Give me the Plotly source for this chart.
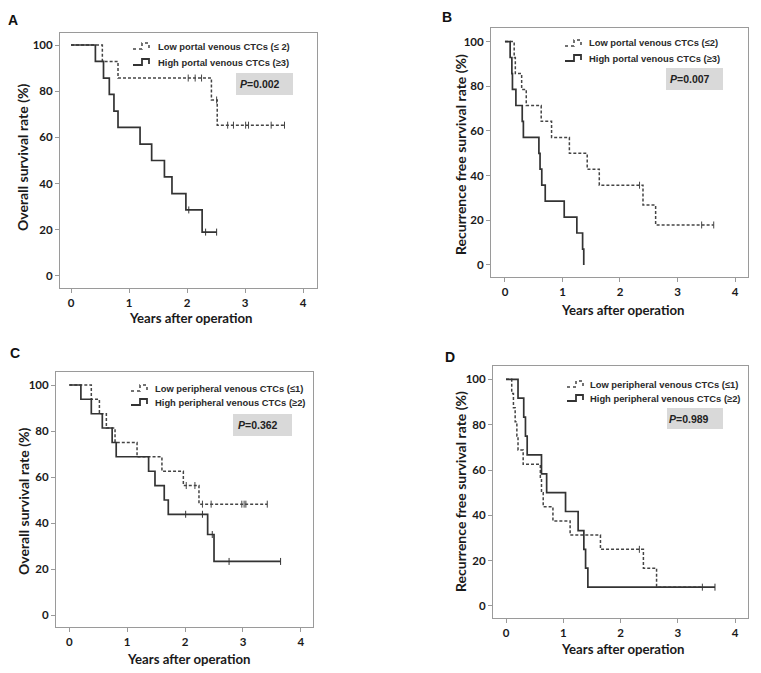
import plotly.graph_objects as go

W, H = 761, 673
OFF = 8  # page body margin of the browser

# ---------------- data ----------------
# Panel A: overall survival, portal venous CTCs
A_high_t = [0, 0.42, 0.56, 0.66, 0.74, 0.81, 1.19, 1.39, 1.61, 1.74, 1.98, 2.26]
A_high_s = [100, 92.9, 85.7, 78.6, 71.4, 64.3, 57.1, 50.0, 42.9, 35.7, 28.6, 19.0]
A_high_end = 2.51
A_high_cens = [2.03, 2.32, 2.51]
A_low_t = [0, 0.54, 0.81, 2.42, 2.52]
A_low_s = [100, 92.9, 85.7, 76.2, 65.3]
A_low_end = 3.68
A_low_cens = [2.02, 2.14, 2.25, 2.51, 2.70, 2.80, 3.01, 3.06, 3.45, 3.68]

# Panel B: recurrence free survival, portal venous CTCs
B_high_t = [0, 0.09, 0.12, 0.13, 0.19, 0.30, 0.32, 0.59, 0.61, 0.64, 0.70, 1.03, 1.25, 1.35, 1.37]
B_high_s = [100, 92.9, 85.7, 78.6, 71.4, 64.3, 57.1, 50.0, 42.9, 35.7, 28.6, 21.4, 14.3, 7.1, 0]
B_high_end = 1.37
B_high_cens = []
B_low_t = [0, 0.16, 0.18, 0.29, 0.37, 0.63, 0.81, 1.12, 1.43, 1.64, 2.40, 2.62]
B_low_s = [100, 92.9, 85.7, 78.6, 71.4, 64.3, 57.1, 50.0, 42.9, 35.7, 26.8, 17.9]
B_low_end = 3.63
B_low_cens = [2.34, 3.42, 3.63]

# Panel C: overall survival, peripheral venous CTCs
C_high_t = [0, 0.20, 0.38, 0.57, 0.74, 0.81, 1.37, 1.48, 1.64, 1.71, 2.39, 2.50]
C_high_s = [100, 93.8, 87.5, 81.3, 75.0, 68.8, 62.5, 56.3, 50.0, 43.8, 35.0, 23.3]
C_high_end = 3.65
C_high_cens = [2.01, 2.30, 2.47, 2.76, 3.65]
C_low_t = [0, 0.38, 0.52, 0.64, 0.79, 1.17, 1.60, 1.97, 2.24]
C_low_s = [100, 93.8, 87.5, 81.3, 75.0, 68.8, 62.5, 56.3, 48.2]
C_low_end = 3.42
C_low_cens = [2.02, 2.17, 2.30, 2.45, 2.98, 3.02, 3.05, 3.42]

# Panel D: recurrence free survival, peripheral venous CTCs
D_high_t = [0, 0.21, 0.31, 0.34, 0.37, 0.62, 0.71, 1.04, 1.26, 1.36, 1.39, 1.43]
D_high_s = [100, 91.7, 83.3, 75.0, 66.7, 58.3, 50.0, 41.7, 33.3, 25.0, 16.7, 8.3]
D_high_end = 3.65
D_high_cens = [3.65]
D_low_t = [0, 0.10, 0.13, 0.16, 0.19, 0.21, 0.30, 0.60, 0.62, 0.65, 0.82, 1.12, 1.65, 2.40, 2.63]
D_low_s = [100, 93.8, 87.5, 81.3, 75.0, 68.8, 62.5, 56.3, 50.0, 43.8, 37.5, 31.3, 25.0, 16.7, 8.3]
D_low_end = 3.43
D_low_cens = [2.33, 3.43]

x_ticks = [0, 1, 2, 3, 4]
y_ticks = [0, 20, 40, 60, 80, 100]

letters = ["A", "B", "C", "D"]
y_titles = ["Overall survival rate (%)", "Recurrence free survival rate (%)",
            "Overall survival rate (%)", "Recurrence free survival rate (%)"]
x_title = "Years after operation"
low_labels = ["Low portal venous CTCs (\u2264 2)", "Low portal venous CTCs (\u22642)",
              "Low peripheral venous CTCs (\u22641)", "Low peripheral venous CTCs (\u22641)"]
high_labels = ["High portal venous CTCs (\u22653)", "High portal venous CTCs (\u22653)",
               "High peripheral venous CTCs (\u22652)", "High peripheral venous CTCs (\u22652)"]
p_values = ["0.002", "0.007", "0.362", "0.989"]

# ---------------- layout geometry (pixels in the 761x673 picture) ----------------
panels = [
    dict(box=(60, 33, 317, 288), xr=(-0.19, 4.24), yr=(-5.2, 105.2),
         letter=(13, 20), ytit=(22, 158), xtit=(190, 318),
         icon_x=133, rows=(46, 62), text_x=156, pbox=(236, 73, 293, 95), ptext=(260, 84)),
    dict(box=(491, 28, 748, 277), xr=(-0.243, 4.226), yr=(-5.4, 106.1),
         letter=(447, 17), ytit=(460, 155), xtit=(622, 310),
         icon_x=565, rows=(43, 58), text_x=587, pbox=(666, 68, 723, 90), ptext=(690, 79)),
    dict(box=(56, 372, 313, 627), xr=(-0.23, 4.21), yr=(-5.2, 105.65),
         letter=(15, 353), ytit=(23, 502), xtit=(188, 659),
         icon_x=131, rows=(388, 402), text_x=153, pbox=(233, 414, 292, 436), ptext=(258, 425)),
    dict(box=(493, 366, 748, 618), xr=(-0.227, 4.227), yr=(-5.3, 105.9),
         letter=(450, 357), ytit=(460, 492), xtit=(622, 649),
         icon_x=567, rows=(384, 398), text_x=588, pbox=(667, 408, 723, 429), ptext=(689, 419)),
]

curves = [
    (A_high_t, A_high_s, A_high_end, A_high_cens, A_low_t, A_low_s, A_low_end, A_low_cens),
    (B_high_t, B_high_s, B_high_end, B_high_cens, B_low_t, B_low_s, B_low_end, B_low_cens),
    (C_high_t, C_high_s, C_high_end, C_high_cens, C_low_t, C_low_s, C_low_end, C_low_cens),
    (D_high_t, D_high_s, D_high_end, D_high_cens, D_low_t, D_low_s, D_low_end, D_low_cens),
]

FW, FH = W - OFF, H - OFF


def fx(px):
    return (px - OFF) / FW


def fy(py):
    return 1 - (py - OFF) / FH


def step_value(ts, ss, x):
    v = ss[0]
    for t, s in zip(ts, ss):
        if t <= x:
            v = s
    return v


SOLID = "#333333"
DASHED = "#444444"
TICKFONT = dict(family="Lato, Liberation Sans, sans-serif", size=11.5, color="#1a1a1a", weight="bold")
YTITLEFONT = dict(family="Lato, Liberation Sans, sans-serif", size=14, color="#1a1a1a", weight="bold")
XTITLEFONT = dict(family="Lato, Liberation Sans, sans-serif", size=13.2, color="#1a1a1a", weight="bold")
LEGFONT = dict(family="Liberation Sans, Arial, sans-serif", size=9.4, color="#2a2a2a", weight="bold")

fig = go.Figure()
annotations = []
shapes = []
layout_axes = {}

for i, (p, c) in enumerate(zip(panels, curves)):
    n = "" if i == 0 else str(i + 1)
    xa, ya = "x" + n, "y" + n
    ht, hs, hend, hc, lt, ls, lend, lc = c

    # low (dashed)
    fig.add_trace(go.Scatter(x=lt + [lend], y=ls + [ls[-1]], mode="lines", line_shape="hv",
                             line=dict(color=DASHED, width=1.5, dash="3px,2px"),
                             xaxis=xa, yaxis=ya, showlegend=False, hoverinfo="skip"))
    if lc:
        fig.add_trace(go.Scatter(x=lc, y=[step_value(lt, ls, t) for t in lc], mode="markers",
                                 marker=dict(symbol="line-ns", size=5, color=DASHED,
                                             line=dict(color=DASHED, width=1)),
                                 xaxis=xa, yaxis=ya, showlegend=False, hoverinfo="skip"))
    # high (solid)
    fig.add_trace(go.Scatter(x=ht + [hend], y=hs + [hs[-1]], mode="lines", line_shape="hv",
                             line=dict(color=SOLID, width=1.7),
                             xaxis=xa, yaxis=ya, showlegend=False, hoverinfo="skip"))
    if hc:
        fig.add_trace(go.Scatter(x=hc, y=[step_value(ht, hs, t) for t in hc], mode="markers",
                                 marker=dict(symbol="line-ns", size=5, color=SOLID,
                                             line=dict(color=SOLID, width=1)),
                                 xaxis=xa, yaxis=ya, showlegend=False, hoverinfo="skip"))

    x0, y0, x1, y1 = p["box"]
    common = dict(showline=True, mirror=True, linecolor="#9a9a9a", linewidth=1,
                  ticks="outside", ticklen=4, tickcolor="#9a9a9a", tickwidth=1,
                  showgrid=False, zeroline=False, tickfont=TICKFONT, fixedrange=True)
    layout_axes["xaxis" + n] = dict(domain=[fx(x0), fx(x1)], range=list(p["xr"]),
                                    tickvals=x_ticks, anchor=ya, **common)
    layout_axes["yaxis" + n] = dict(domain=[fy(y1), fy(y0)], range=list(p["yr"]),
                                    tickvals=y_ticks, anchor=xa, **common)

    # panel letter
    lx, ly = p["letter"]
    annotations.append(dict(x=fx(lx), y=fy(ly), xref="paper", yref="paper", text=letters[i],
                            showarrow=False, xanchor="center", yanchor="middle",
                            font=dict(family="Liberation Sans, Arial, sans-serif", size=14,
                                      color="#111111", weight="bold")))
    # axis titles
    tx, ty = p["ytit"]
    annotations.append(dict(x=fx(tx), y=fy(ty), xref="paper", yref="paper", text=y_titles[i],
                            textangle=-90, showarrow=False, xanchor="center", yanchor="middle",
                            font=YTITLEFONT))
    tx, ty = p["xtit"]
    annotations.append(dict(x=fx(tx), y=fy(ty), xref="paper", yref="paper", text=x_title,
                            showarrow=False, xanchor="center", yanchor="middle", font=XTITLEFONT))

    # legend
    ix = p["icon_x"]
    r1, r2 = p["rows"]
    for row, dash, col, w in ((r1, "dot", DASHED, 1.5), (r2, "solid", SOLID, 1.8)):
        pts = [(ix, row + 3), (ix + 9, row + 3), (ix + 9, row - 3), (ix + 16, row - 3), (ix + 16, row + 2)]
        path = "M " + " L ".join(f"{fx(a):.5f},{fy(b):.5f}" for a, b in pts)
        shapes.append(dict(type="path", path=path, xref="paper", yref="paper",
                           line=dict(color=col, width=w, dash=dash)))
    annotations.append(dict(x=fx(p["text_x"]), y=fy(r1), xref="paper", yref="paper",
                            text=low_labels[i], showarrow=False, xanchor="left", yanchor="middle",
                            font=LEGFONT))
    annotations.append(dict(x=fx(p["text_x"]), y=fy(r2), xref="paper", yref="paper",
                            text=high_labels[i], showarrow=False, xanchor="left", yanchor="middle",
                            font=LEGFONT))

    # p-value box
    bx0, by0, bx1, by1 = p["pbox"]
    shapes.append(dict(type="rect", xref="paper", yref="paper", x0=fx(bx0), x1=fx(bx1),
                       y0=fy(by1), y1=fy(by0), fillcolor="#d9d9d9", line=dict(width=0),
                       layer="below"))
    px_, py_ = p["ptext"]
    annotations.append(dict(x=fx(px_), y=fy(py_), xref="paper", yref="paper",
                            text="<i>P</i>=" + p_values[i], showarrow=False,
                            xanchor="center", yanchor="middle",
                            font=dict(family="Liberation Sans, Arial, sans-serif", size=10.5,
                                      color="#222222", weight="bold")))

fig.update_layout(width=FW, height=FH, margin=dict(l=0, r=0, t=0, b=0),
                  paper_bgcolor="white", plot_bgcolor="white",
                  annotations=annotations, shapes=shapes, **layout_axes)

fig.write_html("out.html")
